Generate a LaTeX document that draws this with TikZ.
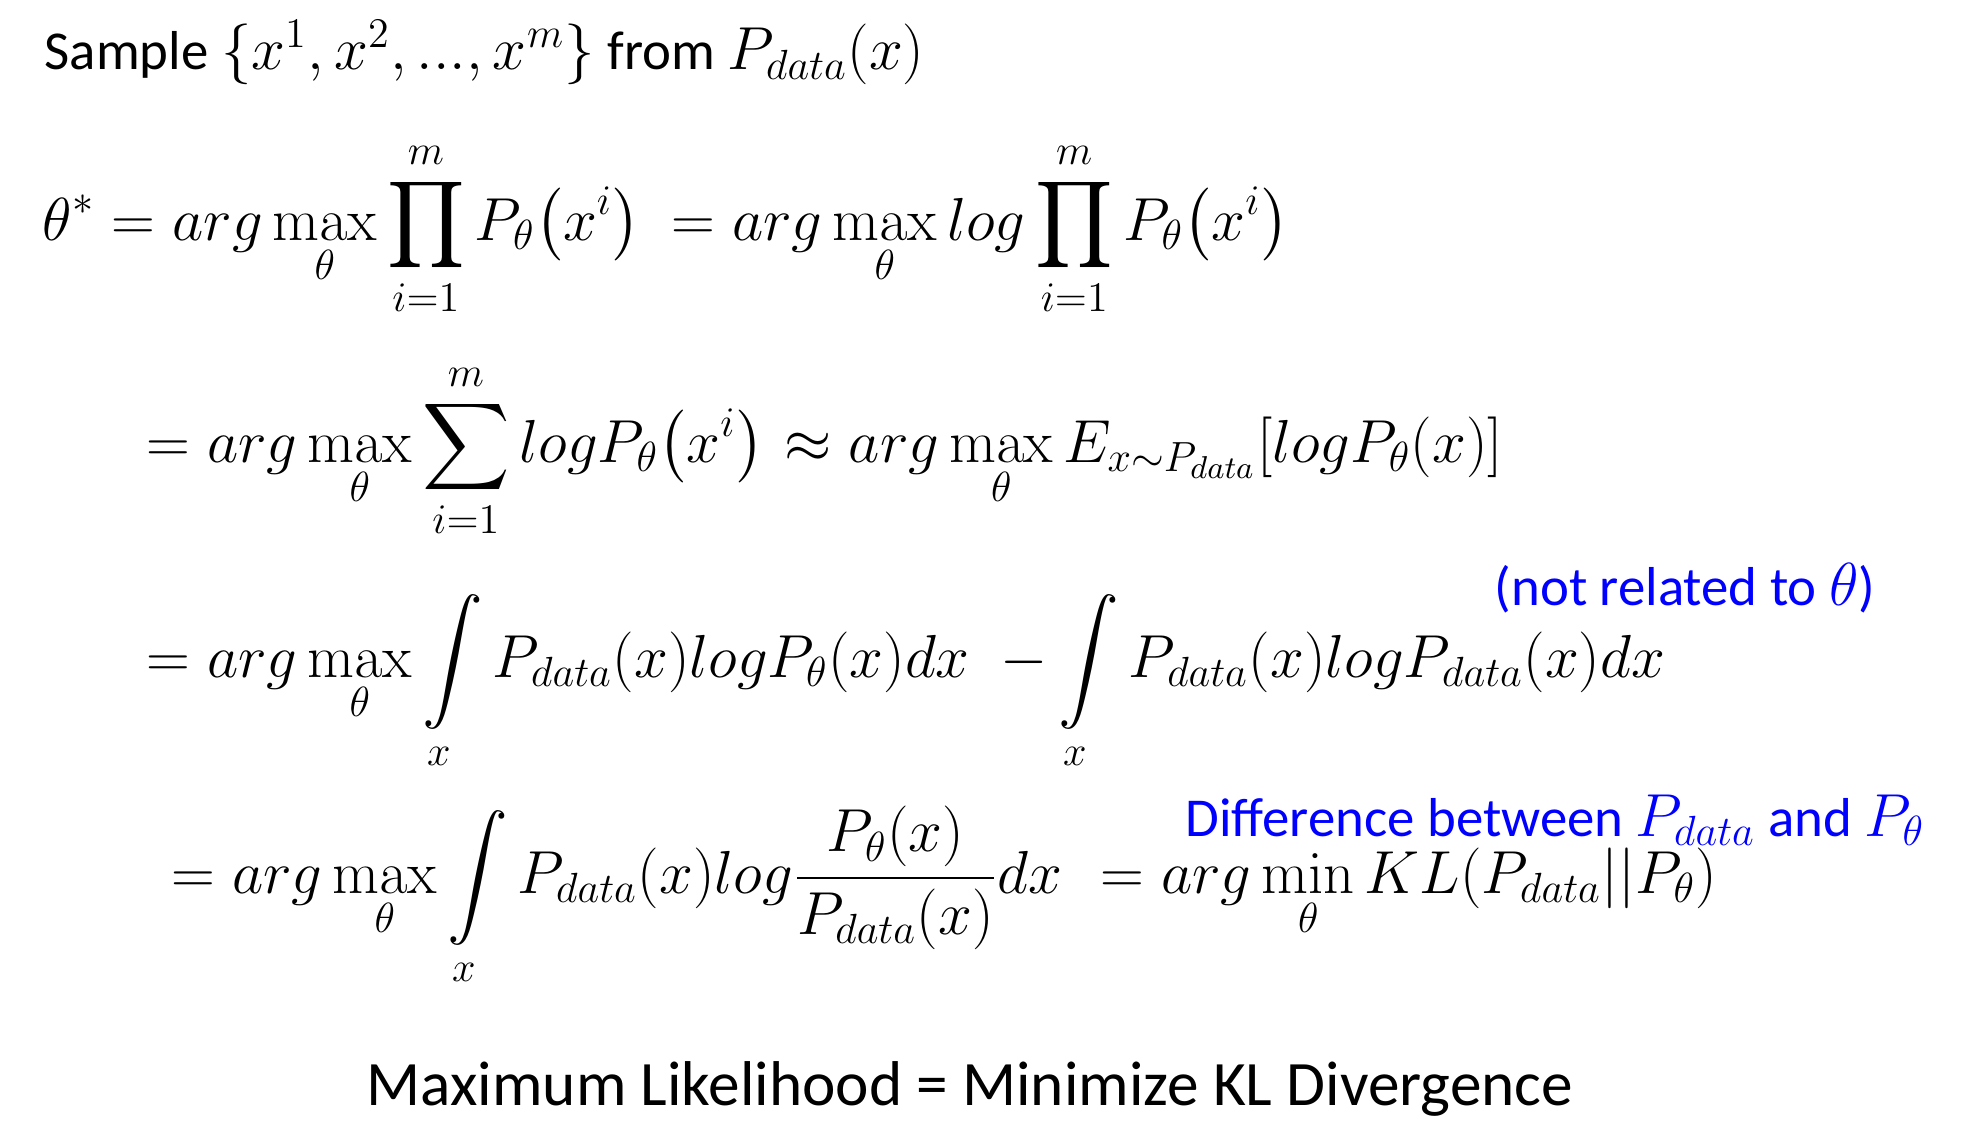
\documentclass[tikz,border=0pt]{standalone}
\usepackage{amsmath}
\usepackage[no-math]{fontspec}
\setmainfont{Carlito}
\begin{document}
\begin{tikzpicture}[
    eq/.style={anchor=base west, inner sep=0pt, font=\fontsize{18}{22}\selectfont},
    words/.style={eq, font=\fontsize{15.6}{19}\selectfont},
    note/.style={words, text=blue},
    headline/.style={anchor=base, inner sep=0pt, font=\fontsize{18}{22}\selectfont}]
    % Define frame
    \useasboundingbox (0,0) rectangle (19.62,11.42);

    % Draw the derivation
    \node[words] (sample) at (0.44,10.72) {Sample {\fontsize{18}{22}\selectfont$\{x^1,x^2,...,x^m\}$} from {\fontsize{18}{22}\selectfont$P_{data}(x)$}};
    \node[eq] (prodA) at (0.42,9.02) {$\displaystyle \theta^* = arg\max_{\theta}\prod_{i=1}^{m}P_\theta\bigl(x^i\bigr)$};
    \node[eq] (prodB) at (6.71,9.02) {$\displaystyle = arg\max_{\theta} log\prod_{i=1}^{m}P_\theta\bigl(x^i\bigr)$};
    \node[eq] (sumA) at (1.46,6.80) {$\displaystyle = arg\max_{\theta}\sum_{i=1}^{m}logP_\theta\bigl(x^i\bigr)$};
    \node[eq] (sumB) at (7.84,6.80) {$\displaystyle \approx arg\max_{\theta}E_{x\sim P_{data}}[logP_\theta(x)]$};
    \node[note] (unrelated) at (14.94,5.37) {(not related to {\fontsize{18}{22}\selectfont$\theta$})};
    \node[eq] (intA) at (1.46,4.65) {$\displaystyle = arg\max_{\theta}\int\limits_{x}P_{data}(x)logP_\theta(x)dx$};
    \node[eq] (intB) at (10.00,4.65) {$\displaystyle -\int\limits_{x}P_{data}(x)logP_{data}(x)dx$};
    \node[note] (differ) at (11.85,3.06) {Difference between {\fontsize{18}{22}\selectfont$P_{data}$} and {\fontsize{18}{22}\selectfont$P_\theta$}};
    \node[eq] (ratio) at (1.71,2.49) {$\displaystyle = arg\max_{\theta}\int\limits_{x}P_{data}(x)log\frac{P_\theta(x)}{P_{data}(x)}dx$};
    \node[eq] (kl) at (11.00,2.49) {$\displaystyle = arg\min_{\theta}KL(P_{data}||P_\theta)$};
    \node[headline] (summary) at (9.70,0.37) {Maximum Likelihood = Minimize KL Divergence};
\end{tikzpicture}
\end{document}
